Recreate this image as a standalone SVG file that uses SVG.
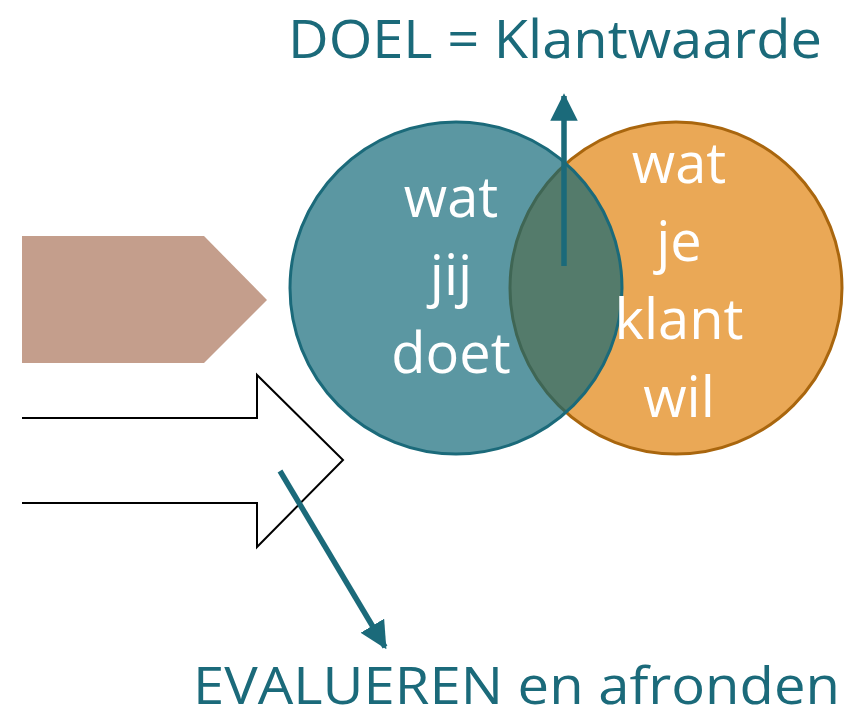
<svg xmlns="http://www.w3.org/2000/svg" width="856" height="720" viewBox="0 0 856 720">
<defs>
<style>
.lbl{font-family:"Open Sans","Liberation Sans",sans-serif;font-size:56px;fill:#ffffff;text-anchor:middle}
.ttl{font-family:"Open Sans","Liberation Sans",sans-serif;font-size:53px;fill:#1B6A7A}
.con{stroke:#1B6A7A;stroke-width:5.5;fill:none}
</style>
<marker id="ah" viewBox="0 0 10 10" refX="9" refY="5" markerWidth="5" markerHeight="5" orient="auto" markerUnits="strokeWidth">
<path d="M0,0 L10,5 L0,10 Z" fill="#1B6A7A"/>
</marker>
</defs>
<rect width="856" height="720" fill="#ffffff"/>
<g id="pentagon">
<polygon points="22,236 204,236 267,300 204,363 22,363" fill="#C49E8C"/>
</g>
<g id="hollow-arrow">
<polyline points="22,418 257,418 257,375 343,460 257,547 257,503 22,503" fill="none" stroke="#000000" stroke-width="2"/>
</g>
<g id="klant">
<circle cx="676" cy="288" r="166" fill="#EAA856" stroke="#A9660E" stroke-width="3"/>
</g>
<g id="jij">
<circle cx="456" cy="288" r="166" fill="#0E6676" fill-opacity="0.68" stroke="#1B6A7A" stroke-width="3"/>
</g>
<g id="jij-text">
<text class="lbl" x="451" y="217">wat</text>
<text class="lbl" x="451" y="295">jij</text>
<text class="lbl" x="451" y="373">doet</text>
</g>
<g id="klant-text">
<text class="lbl" x="679" y="183">wat</text>
<text class="lbl" x="679" y="261">je</text>
<text class="lbl" x="679" y="339">klant</text>
<text class="lbl" x="679" y="417">wil</text>
</g>
<g id="connectors">
<line class="con" x1="564" y1="266" x2="564" y2="96" marker-end="url(#ah)"/>
<line class="con" x1="280" y1="471" x2="385" y2="647" marker-end="url(#ah)"/>
</g>
<g id="titles">
<text class="ttl" x="288" y="58" textLength="534" lengthAdjust="spacingAndGlyphs">DOEL = Klantwaarde</text>
<text class="ttl" x="193" y="704" textLength="647" lengthAdjust="spacingAndGlyphs" style="font-size:51px">EVALUEREN en afronden</text>
</g>
</svg>
